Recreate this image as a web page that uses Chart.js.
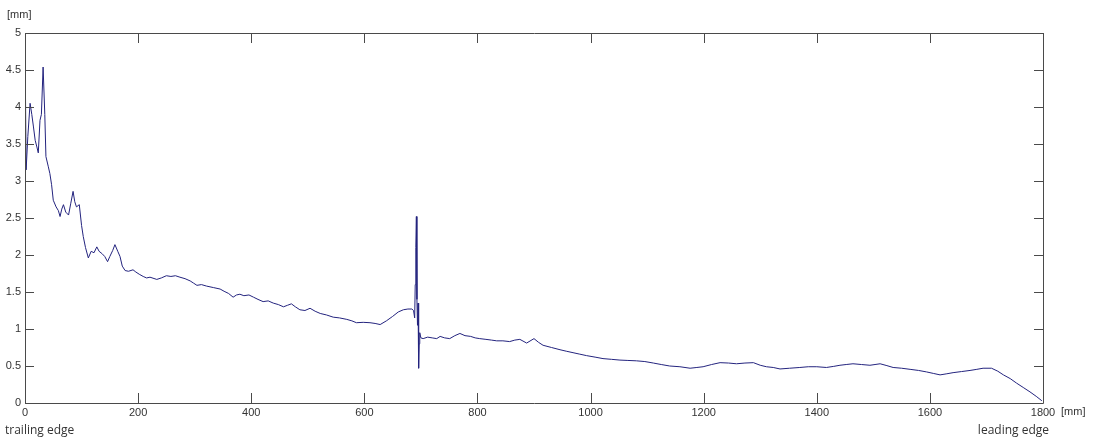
<!DOCTYPE html>
<html>
<head>
<meta charset="utf-8">
<script src="https://cdn.jsdelivr.net/npm/chart.js@4.4.1/dist/chart.umd.min.js"></script>
<style>
  html, body { margin: 0; padding: 0; background: #fff; }
  #wrap { width: 1095px; height: 440px; position: relative; }
</style>
</head>
<body>
<div id="wrap"><canvas id="c" width="1095" height="440"></canvas></div>
<script>
// Position along blade [mm]
const positions = [0,2,5,9,12,15,18,21,23.5,26.5,29,32,35,37,41,44,47,50,55,59,62,65,68,72,77,81,85,88,91,96,100,103,107,112,117,122,127,131,136,141,146,150,155,159,164,168,172,177,183,191,196,202,209,215,221,233,241,250,258,266,274,283,292,298,304,312,321,333,345,352,360,368,374,380,387,396,404,412,421,430,439,448,457,464,471,478,486,495,504,513,522,533,545,556,569,578,586,598,610,619,628,639,650,660,669,677,684,687,689,690,691,692,693,694,695,696,697,698,700,704,712,720,728,734,742,751,760,769,778,788,796,804,815,825,834,845,857,866,875,887,900,908,916,931,946,957,969,981,993,1008,1022,1037,1052,1066,1081,1096,1111,1125,1140,1158,1176,1188,1199,1214,1229,1244,1258,1273,1288,1300,1311,1323,1335,1352,1370,1385,1400,1417,1430,1441,1452,1464,1479,1494,1503,1512,1524,1535,1550,1565,1580,1594,1606,1618,1630,1641,1656,1671,1683,1694,1709,1720,1730,1742,1753,1765,1777,1788,1798];
// Measured value [mm]
const values = [4.9,3.15,3.6,4.05,3.9,3.73,3.55,3.46,3.38,3.82,3.9,4.54,3.9,3.33,3.2,3.1,2.95,2.74,2.65,2.6,2.52,2.62,2.68,2.58,2.54,2.7,2.86,2.72,2.65,2.68,2.4,2.25,2.1,1.96,2.05,2.03,2.11,2.05,2.02,1.98,1.91,1.98,2.06,2.14,2.05,1.98,1.85,1.79,1.78,1.80,1.77,1.74,1.71,1.69,1.70,1.67,1.69,1.72,1.71,1.72,1.70,1.68,1.65,1.62,1.59,1.60,1.58,1.56,1.54,1.51,1.48,1.43,1.46,1.47,1.45,1.46,1.43,1.40,1.37,1.38,1.35,1.33,1.30,1.32,1.34,1.30,1.26,1.25,1.28,1.24,1.21,1.19,1.16,1.15,1.13,1.11,1.085,1.09,1.085,1.075,1.06,1.11,1.17,1.23,1.26,1.27,1.27,1.25,1.15,1.6,2.1,2.52,1.4,1.05,1.35,0.47,0.8,0.95,0.88,0.87,0.89,0.88,0.87,0.90,0.88,0.87,0.91,0.94,0.91,0.90,0.88,0.87,0.86,0.85,0.84,0.84,0.83,0.85,0.86,0.81,0.87,0.82,0.78,0.75,0.72,0.70,0.68,0.66,0.64,0.62,0.60,0.59,0.58,0.575,0.57,0.56,0.54,0.52,0.50,0.49,0.47,0.48,0.49,0.52,0.545,0.54,0.53,0.54,0.545,0.51,0.49,0.48,0.46,0.47,0.48,0.49,0.49,0.48,0.495,0.51,0.52,0.53,0.52,0.51,0.52,0.53,0.505,0.48,0.47,0.455,0.44,0.42,0.40,0.38,0.395,0.41,0.425,0.44,0.455,0.47,0.47,0.43,0.38,0.33,0.27,0.21,0.15,0.09,0.03];
const xTicks = [0,200,400,600,800,1000,1200,1400,1600,1800];
const yTicks = [0,0.5,1,1.5,2,2.5,3,3.5,4,4.5,5];
const yUnit = '[mm]';
const xUnit = '[mm]';
const leftNote = 'trailing edge';
const rightNote = 'leading edge';

const points = positions.map((p, i) => ({ x: p, y: values[i] }));

const boxPlugin = {
  id: 'boxPlugin',
  afterDraw(chart) {
    const { ctx, chartArea: a, scales } = chart;
    const xs = scales.x, ys = scales.y;
    ctx.save();
    ctx.strokeStyle = '#4a4a4a';
    ctx.lineWidth = 1;
    ctx.beginPath();
    ctx.rect(Math.round(a.left) + 0.5, Math.round(a.top) + 0.5, Math.round(a.right - a.left), Math.round(a.bottom - a.top));
    ctx.stroke();
    ctx.beginPath();
    xTicks.forEach(v => {
      const px = Math.round(xs.getPixelForValue(v)) + 0.5;
      ctx.moveTo(px, a.bottom); ctx.lineTo(px, a.bottom - 10);
      ctx.moveTo(px, a.top); ctx.lineTo(px, a.top + 10);
    });
    yTicks.forEach(v => {
      const py = Math.round(ys.getPixelForValue(v)) + 0.5;
      ctx.moveTo(a.left, py); ctx.lineTo(a.left + 9, py);
      ctx.moveTo(a.right, py); ctx.lineTo(a.right - 9, py);
    });
    ctx.stroke();
    ctx.fillStyle = '#333';
    ctx.font = '11px "Liberation Sans", Arial, sans-serif';
    ctx.textBaseline = 'middle';
    ctx.textAlign = 'left';
    ctx.fillText(yUnit, 7, 15);
    ctx.fillText(xUnit, a.right + 18, 412);
    ctx.font = '12px "Open Sans", "Liberation Sans", sans-serif';
    ctx.fillText(leftNote, 5, 431);
    ctx.textAlign = 'right';
    ctx.fillText(rightNote, a.right + 6, 431);
    ctx.restore();
  }
};

const tickFont = { size: 11, family: '"Liberation Sans", Arial, sans-serif' };

new Chart(document.getElementById('c'), {
  type: 'line',
  data: {
    datasets: [{
      data: points,
      borderColor: '#23237e',
      borderWidth: 1,
      pointRadius: 0,
      tension: 0,
      fill: false
    }]
  },
  options: {
    responsive: false,
    animation: false,
    layout: { padding: { top: 33, right: 52, left: 0, bottom: 0 } },
    plugins: { legend: { display: false }, tooltip: { enabled: false } },
    scales: {
      x: {
        type: 'linear', min: 0, max: 1800,
        afterBuildTicks: s => { s.ticks = xTicks.map(v => ({ value: v })); },
        afterFit: s => { s.height = 37; },
        grid: { display: false, drawTicks: false },
        border: { display: false },
        ticks: { padding: 3, color: '#333', font: tickFont, maxRotation: 0, autoSkip: false, callback: v => String(v) }
      },
      y: {
        type: 'linear', min: 0, max: 5,
        afterBuildTicks: s => { s.ticks = yTicks.map(v => ({ value: v })); },
        afterFit: s => { s.width = 25; },
        grid: { display: false, drawTicks: false },
        border: { display: false },
        ticks: { padding: 4, color: '#333', font: tickFont, autoSkip: false, callback: v => String(v) }
      }
    }
  },
  plugins: [boxPlugin]
});
</script>
</body>
</html>
